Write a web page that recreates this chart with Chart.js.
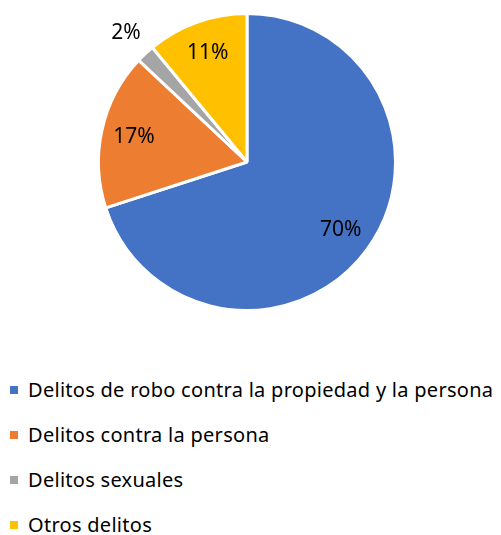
<!DOCTYPE html>
<html>
<head>
<meta charset="utf-8">
<script src="https://cdn.jsdelivr.net/npm/chart.js@4"></script>
<style>
    html, body { margin: 0; padding: 0; background: #fff; }
    body { width: 501px; height: 535px; position: relative; overflow: hidden; font-family: "Noto Sans", sans-serif; }
    #wrap { position: absolute; left: 0; top: 0; width: 501px; height: 324px; }
    #legend { position: absolute; left: 10px; top: 376px; margin: 0; padding: 0; list-style: none; }
    #legend li { height: 44.9px; line-height: 28px; font-size: 20px; letter-spacing: 0.28px; color: #000; white-space: nowrap; }
    #legend span.box { display: inline-block; width: 8px; height: 8px; margin-right: 10px; vertical-align: 3px; }
</style>
</head>
<body>
<div id="wrap"><canvas id="pieChart"></canvas></div>
<ul id="legend"></ul>
<script>
// Chart data
const categories = [
    'Delitos de robo contra la propiedad y la persona',
    'Delitos contra la persona',
    'Delitos sexuales',
    'Otros delitos'
];
const shares = [70, 17, 2, 11];
const colors = ['#4472C4', '#ED7D31', '#A5A5A5', '#FFC000'];

// Percent labels drawn on the slices (small ones go outside)
const pctLabels = {
    id: 'pctLabels',
    afterDatasetsDraw(chart) {
        const ctx = chart.ctx;
        const meta = chart.getDatasetMeta(0);
        ctx.save();
        ctx.font = '21px "Noto Sans", sans-serif';
        ctx.fillStyle = '#000';
        ctx.textAlign = 'center';
        ctx.textBaseline = 'middle';
        meta.data.forEach((arc, i) => {
            const mid = (arc.startAngle + arc.endAngle) / 2;
            const k = shares[i] < 5 ? 1.19 : 0.78;
            const r = arc.outerRadius * k;
            ctx.fillText(shares[i] + '%', arc.x + Math.cos(mid) * r, arc.y + Math.sin(mid) * r);
        });
        ctx.restore();
    }
};

new Chart(document.getElementById('pieChart'), {
    type: 'pie',
    data: {
        labels: categories,
        datasets: [{
            data: shares,
            backgroundColor: colors,
            borderColor: '#ffffff',
            borderWidth: 3
        }]
    },
    options: {
        responsive: true,
        maintainAspectRatio: false,
        animation: false,
        layout: { padding: { top: 12, bottom: 12, left: 0, right: 7 } },
        plugins: {
            legend: { display: false },
            tooltip: { enabled: false }
        }
    },
    plugins: [pctLabels]
});

// Legend as a vertical list
const legend = document.getElementById('legend');
categories.forEach((name, i) => {
    const li = document.createElement('li');
    li.innerHTML = '<span class="box" style="background:' + colors[i] + '"></span>' + name;
    legend.appendChild(li);
});
</script>
</body>
</html>
